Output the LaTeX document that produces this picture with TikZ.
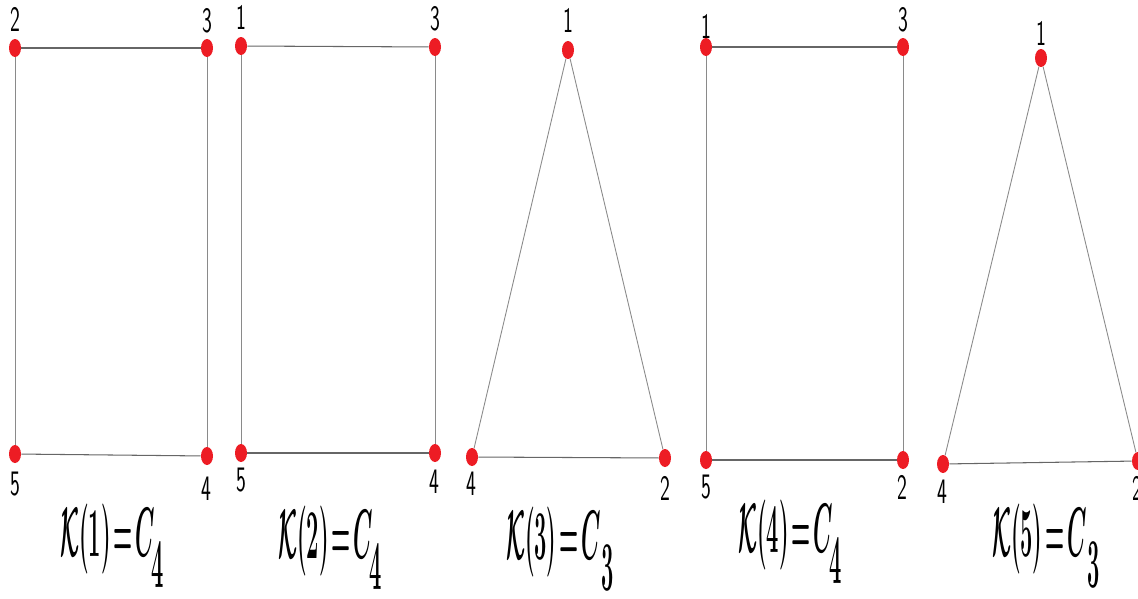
\documentclass[tikz,border=0pt]{standalone}
\usepackage{amsmath}
\usepackage{amssymb}
\usetikzlibrary{shapes.geometric}
\definecolor{dotred}{HTML}{ED1C24}
\definecolor{edgegray}{HTML}{8A8A8A}

\begin{document}
\begin{tikzpicture}[x=0.02cm, y=-0.02cm,
    vtx/.style={ellipse, fill=dotred, inner sep=0pt, minimum width=0.24cm, minimum height=0.36cm},
    edge/.style={edgegray, line width=0.5pt},
    topedge/.style={gray!80!black, line width=0.6pt},
    lbl/.style={font=\sffamily\fontsize{17}{17}\selectfont, xscale=0.7, yscale=1.2, inner sep=0pt},
    captxt/.style={font=\fontsize{24.88}{26}\selectfont\boldmath, xscale=0.5, yscale=1.6, inner sep=0pt}]
    \useasboundingbox (0,0) rectangle (1138,598);
    % K(1)
    \node[vtx] (a2) at (15,48) {};
    \node[vtx] (a3) at (207,48) {};
    \node[vtx] (a5) at (15,454) {};
    \node[vtx] (a4) at (207,456) {};
    \draw[topedge] (a2) -- (a3);
    \draw[edge] (a3) -- (a4);
    \draw[topedge] (a5) -- (a4);
    \draw[edge] (a2) -- (a5);
    \node[lbl] (a2l) at (15,19) {2};
    \node[lbl] (a3l) at (207,21) {3};
    \node[lbl] (a5l) at (15,484) {5};
    \node[lbl] (a4l) at (206,489) {4};
    \node[captxt] (k1) at (112,546) {$\mathcal{K}(1)\!=\!C\hspace{-0.15em}\raisebox{-0.45em}{$4$}$};
    % K(2)
    \node[vtx] (b1) at (241,46) {};
    \node[vtx] (b3) at (435,47) {};
    \node[vtx] (b5) at (241,453) {};
    \node[vtx] (b4) at (435,453) {};
    \draw[topedge] (b1) -- (b3);
    \draw[edge] (b3) -- (b4);
    \draw[topedge] (b5) -- (b4);
    \draw[edge] (b1) -- (b5);
    \node[lbl] (b1l) at (241,17) {1};
    \node[lbl] (b3l) at (435,19) {3};
    \node[lbl] (b5l) at (241,480) {5};
    \node[lbl] (b4l) at (434,482) {4};
    \node[captxt] (k2) at (330,548) {$\mathcal{K}(2)\!=\!C\hspace{-0.15em}\raisebox{-0.45em}{$4$}$};
    % K(3)
    \node[vtx] (c1) at (568,50) {};
    \node[vtx] (c4) at (472,457) {};
    \node[vtx] (c2) at (665,458) {};
    \draw[edge] (c1) -- (c4);
    \draw[edge] (c1) -- (c2);
    \draw[topedge] (c4) -- (c2);
    \node[lbl] (c1l) at (568,20) {1};
    \node[lbl] (c4l) at (471,484) {4};
    \node[lbl] (c2l) at (665,488) {2};
    \node[captxt] (k3) at (560,549) {$\mathcal{K}(3)\!=\!C\hspace{0.05em}\raisebox{-0.45em}{$3$}$};
    % K(4)
    \node[vtx] (d1) at (706,47) {};
    \node[vtx] (d3) at (903,47) {};
    \node[vtx] (d5) at (706,460) {};
    \node[vtx] (d2) at (903,460) {};
    \draw[topedge] (d1) -- (d3);
    \draw[edge] (d3) -- (d2);
    \draw[topedge] (d5) -- (d2);
    \draw[edge] (d1) -- (d5);
    \node[lbl] (d1l) at (706,26) {1};
    \node[lbl] (d3l) at (903,20) {3};
    \node[lbl] (d5l) at (706,487) {5};
    \node[lbl] (d2l) at (902,487) {2};
    \node[captxt] (k4) at (790,542) {$\mathcal{K}(4)\!=\!C\hspace{-0.15em}\raisebox{-0.45em}{$4$}$};
    % K(5)
    \node[vtx] (e1) at (1041,58) {};
    \node[vtx] (e4) at (943,464) {};
    \node[vtx] (e2) at (1138,461) {};
    \draw[edge] (e1) -- (e4);
    \draw[edge] (e1) -- (e2);
    \draw[topedge] (e4) -- (e2);
    \node[lbl] (e1l) at (1041,33) {1};
    \node[lbl] (e4l) at (942,492) {4};
    \node[lbl] (e2l) at (1137,488) {2};
    \node[captxt] (k5) at (1046,546) {$\mathcal{K}(5)\!=\!C\hspace{0.05em}\raisebox{-0.45em}{$3$}$};
\end{tikzpicture}
\end{document}
